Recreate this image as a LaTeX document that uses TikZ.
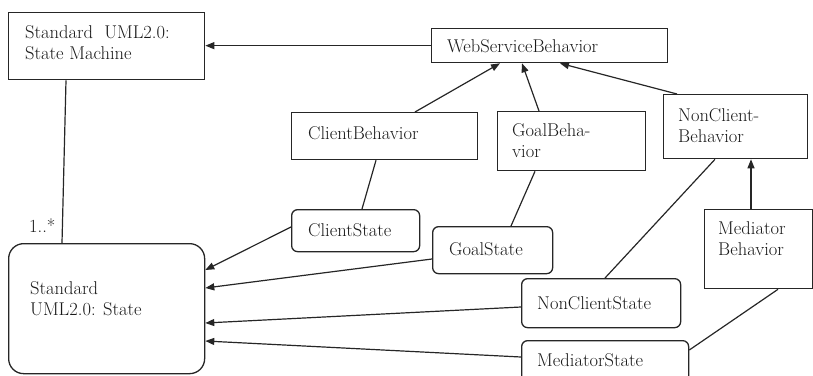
\documentclass[tikz,border=0pt]{standalone}
\usetikzlibrary{arrows.meta}
\begin{document}
\begin{tikzpicture}[x=1pt,y=-1pt,
  frame/.style={draw=black!85, line width=1.3pt, inner sep=0pt, anchor=north west},
  sharpbox/.style={frame},
  roundbox/.style={frame, rounded corners=6pt},
  % multi-line texts are anchored at the baseline of their last line
  lbl/.style={anchor=base west, inner sep=0pt, text=black!90,
    font=\fontsize{18.5}{20.5}\selectfont, align=left},
  link/.style={draw=black!85, line width=1.2pt},
  arr/.style={link, -{Triangle[length=9pt,width=7pt]}}]
\useasboundingbox (0,0) rectangle (813,375);

% class boxes
\node[sharpbox, minimum width=196pt, minimum height=67pt] (sm)  at (8,12)   {};
\node[sharpbox, minimum width=236pt, minimum height=34pt] (wsb) at (431,28) {};
\node[sharpbox, minimum width=186pt, minimum height=47pt] (cb)  at (291,112) {};
\node[sharpbox, minimum width=148pt, minimum height=59pt] (gb)  at (497,111) {};
\node[sharpbox, minimum width=144pt, minimum height=64pt] (ncb) at (663,94) {};
\node[sharpbox, minimum width=107.5pt, minimum height=79pt] (mb) at (704,209) {};

% state boxes
\node[roundbox, rounded corners=15pt, minimum width=196pt, minimum height=130pt] (st) at (8,243) {};
\node[roundbox, minimum width=128pt, minimum height=42pt] (cs)  at (291,209) {};
\node[roundbox, minimum width=120pt, minimum height=47pt] (gs)  at (432,226) {};
\node[roundbox, minimum width=159pt, minimum height=49pt] (ncs) at (521,278) {};
\node[roundbox, minimum width=167pt, minimum height=50pt] (ms)  at (521,340) {};

% texts
\node[lbl] (sm-t)  at (25,59)   {Standard~~UML2.0:\\State Machine};
\node[lbl] (wsb-t) at (447,52)  {WebServiceBehavior};
\node[lbl] (cb-t)  at (308,139) {ClientBehavior};
\node[lbl] (gb-t)  at (512,157) {GoalBeha-\\vior};
\node[lbl] (ncb-t) at (678,142) {NonClient-\\Behavior};
\node[lbl] (mb-t)  at (718,255) {Mediator\\Behavior};
\node[lbl] (st-t)  at (30,315)  {Standard\\UML2.0: State};
\node[lbl] (cs-t)  at (308,236) {ClientState};
\node[lbl] (gs-t)  at (449,255) {GoalState};
\node[lbl] (ncs-t) at (537,309) {NonClientState};
\node[lbl] (ms-t)  at (537,366) {MediatorState};
\node[lbl] (mult)  at (29,232)  {1..*};

% generalisations
\draw[arr] (wsb.west) -- (wsb.west -| sm.east);
\draw[arr] ([xshift=124pt]cb.north west) -- ([xshift=69pt]wsb.south west);
\draw[arr] ([xshift=42pt]gb.north west) -- ([xshift=91pt]wsb.south west);
\draw[arr] ([xshift=14pt]ncb.north west) -- ([xshift=129pt]wsb.south west);
\draw[arr] ([xshift=47pt]mb.north west) -- ([xshift=88pt]ncb.south west);
\draw[arr] ([yshift=-18pt]cs.north west) -- ([yshift=-27pt]st.north east);
\draw[arr] ([yshift=-33pt]gs.north west) -- ([yshift=-45pt]st.north east);
\draw[arr] ([yshift=-29pt]ncs.north west) -- ([yshift=-80pt]st.north east);
\draw[arr] ([yshift=-17pt]ms.north west) -- ([yshift=-98pt]st.north east);

% associations
\draw[link] ([xshift=58pt]sm.south west) -- ([xshift=54pt]st.north west);
\draw[link] ([xshift=85pt]cb.south west) -- ([xshift=71pt]cs.north west);
\draw[link] ([xshift=38pt]gb.south west) -- ([xshift=79pt]gs.north west);
\draw[link] ([xshift=52pt]ncb.south west) -- ([xshift=84pt]ncs.north west);
\draw[link] ([xshift=74pt]mb.south west) -- ([yshift=-10pt]ms.north east);
\end{tikzpicture}
\end{document}
